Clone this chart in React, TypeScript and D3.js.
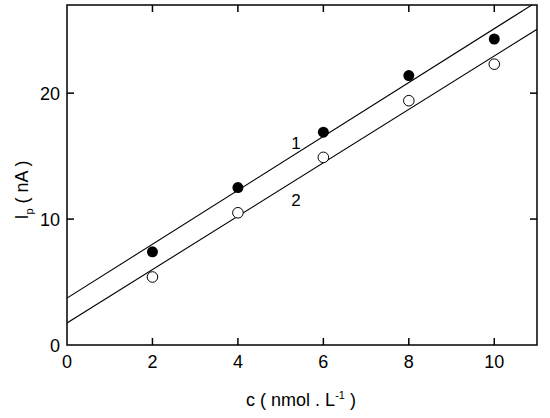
import React from "react";
import * as d3 from "d3";

const concentrations = [2, 4, 6, 8, 10];
const series1 = [7.4, 12.5, 16.9, 21.4, 24.3];
const series2 = [5.4, 10.5, 14.9, 19.4, 22.3];
const fit1 = { intercept: 3.72, slope: 2.14 };
const fit2 = { intercept: 1.75, slope: 2.12 };
const xTicks = [0, 2, 4, 6, 8, 10];
const yTicks = [0, 10, 20];

const W = 550, H = 418;
const m = { left: 67, top: 5, right: 537, bottom: 345 };

export default function App() {
  const x = d3.scaleLinear().domain([0, 11]).range([m.left, m.right]);
  const y = d3.scaleLinear().domain([0, 27]).range([m.bottom, m.top]);
  const font = "'Liberation Sans', Arial, sans-serif";
  const fitLine = (f: { intercept: number; slope: number }) =>
    d3.line<number>().x((d) => x(d)).y((d) => y(f.intercept + f.slope * d))([0, 11]) || "";
  const tl = 7;
  const fs = 18;
  return (
    <svg width={W} height={H} style={{ position: "absolute", left: 0, top: 0, background: "#fff" }}>
      <defs>
        <clipPath id="plot">
          <rect x={m.left} y={m.top} width={m.right - m.left} height={m.bottom - m.top} />
        </clipPath>
      </defs>
      <rect x={0} y={0} width={W} height={H} fill="#fff" />
      <g clipPath="url(#plot)">
        <path d={fitLine(fit1)} stroke="#000" strokeWidth={1.1} fill="none" />
        <path d={fitLine(fit2)} stroke="#000" strokeWidth={1.1} fill="none" />
      </g>
      {concentrations.map((c, i) => (
        <circle key={"a" + i} cx={x(c)} cy={y(series1[i])} r={5.5} fill="#000" />
      ))}
      {concentrations.map((c, i) => (
        <circle key={"b" + i} cx={x(c)} cy={y(series2[i])} r={5.3} fill="#fff" stroke="#000" strokeWidth={1} />
      ))}
      <rect x={m.left} y={m.top} width={m.right - m.left} height={m.bottom - m.top} fill="none" stroke="#000" strokeWidth={1.5} />
      {xTicks.filter((t) => t > 0).map((t) => (
        <g key={"xt" + t}>
          <line x1={x(t)} x2={x(t)} y1={m.bottom} y2={m.bottom - tl} stroke="#000" strokeWidth={1.5} />
          <line x1={x(t)} x2={x(t)} y1={m.top} y2={m.top + tl} stroke="#000" strokeWidth={1.5} />
        </g>
      ))}
      {yTicks.filter((t) => t > 0).map((t) => (
        <g key={"yt" + t}>
          <line x1={m.left} x2={m.left + tl} y1={y(t)} y2={y(t)} stroke="#000" strokeWidth={1.5} />
          <line x1={m.right} x2={m.right - tl} y1={y(t)} y2={y(t)} stroke="#000" strokeWidth={1.5} />
        </g>
      ))}
      {xTicks.map((t) => (
        <text key={"xl" + t} x={x(t)} y={m.bottom + 23} textAnchor="middle" fontFamily={font} fontSize={fs}>
          {t}
        </text>
      ))}
      {yTicks.map((t) => (
        <text key={"yl" + t} x={m.left - 7} y={y(t) + 6.5} textAnchor="end" fontFamily={font} fontSize={fs}>
          {t}
        </text>
      ))}
      <text x={301} y={406} textAnchor="middle" fontFamily={font} fontSize={fs}>
        c ( nmol . L<tspan dy={-7} fontSize={11}>-1</tspan>
        <tspan dy={7}> )</tspan>
      </text>
      <text transform="translate(28,190) rotate(-90)" textAnchor="middle" fontFamily={font} fontSize={fs}>
        I<tspan dy={5} fontSize={11}>p</tspan>
        <tspan dy={-5}> ( nA )</tspan>
      </text>
      <text x={296} y={149} textAnchor="middle" fontFamily={font} fontSize={17}>1</text>
      <text x={296} y={206} textAnchor="middle" fontFamily={font} fontSize={17}>2</text>
    </svg>
  );
}
